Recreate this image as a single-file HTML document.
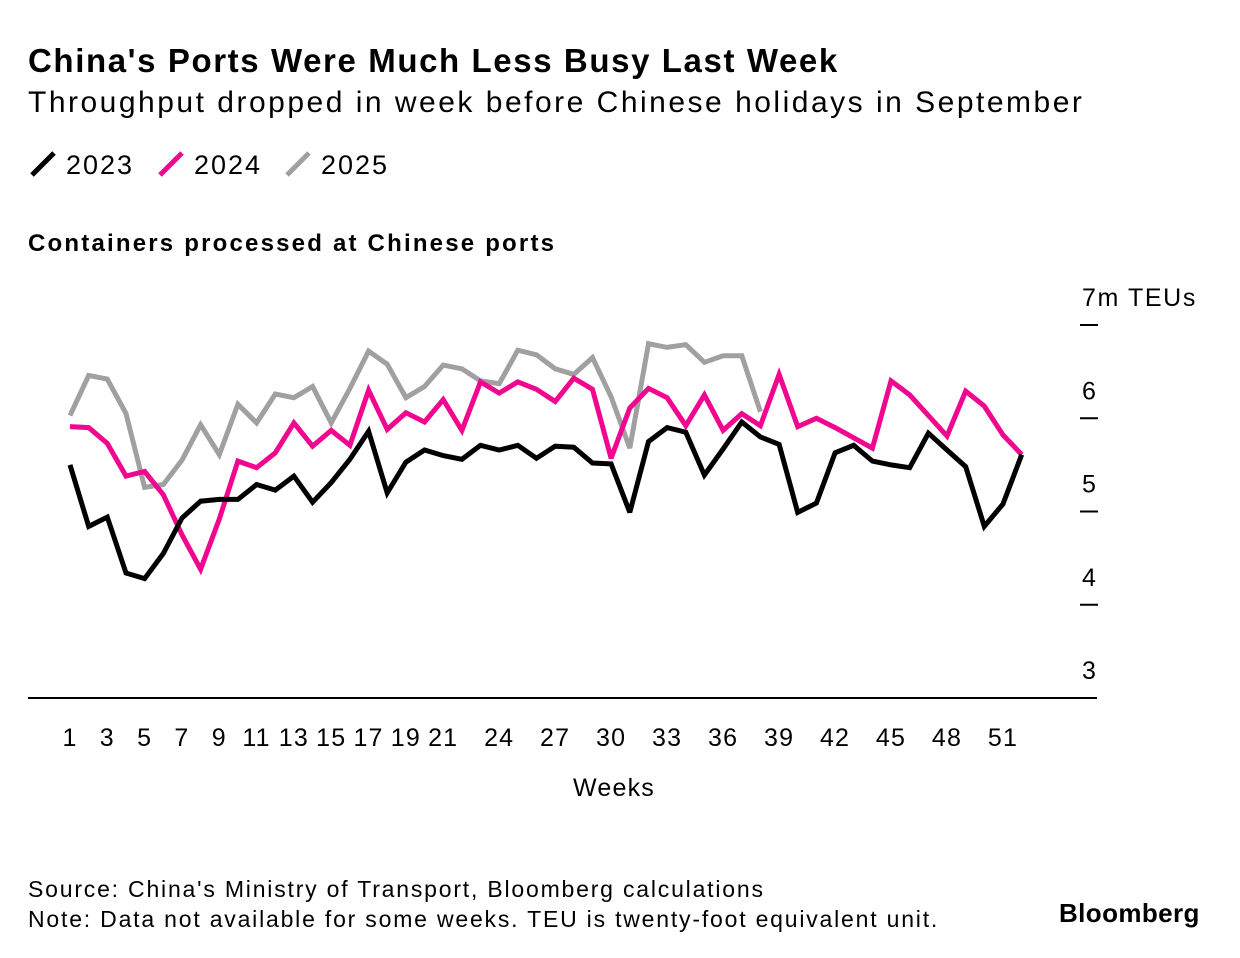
<!DOCTYPE html>
<html><head><meta charset="utf-8"><style>
body{margin:0;background:#fff;font-family:"Liberation Sans",sans-serif;}
#wrap{position:relative;width:1240px;height:958px;overflow:hidden;}
.t{position:absolute;white-space:nowrap;color:#000;}
</style></head><body>
<div id="wrap">
<div class="t" style="left:28px;top:42px;font-size:33px;font-weight:bold;letter-spacing:1.6px">China's Ports Were Much Less Busy Last Week</div>
<div class="t" style="left:28px;top:86px;font-size:30px;letter-spacing:2.5px">Throughput dropped in week before Chinese holidays in September</div>
<div class="t" style="left:28px;top:230px;font-size:24px;font-weight:bold;letter-spacing:2.2px">Containers processed at Chinese ports</div>
<div class="t" style="left:28px;top:874px;font-size:23px;line-height:30px;letter-spacing:1.8px">Source: China's Ministry of Transport, Bloomberg calculations<br>Note: Data not available for some weeks. TEU is twenty-foot equivalent unit.</div>
<div class="t" style="left:1059px;top:898px;font-size:26px;font-weight:bold;letter-spacing:0.4px">Bloomberg</div>
<svg id="svg" width="1240" height="958" style="position:absolute;left:0;top:0"></svg>
</div>
<script>
const weeks = Array.from({length:52},(_,i)=>i+1);
const s2023 = [5.50,4.84,4.94,4.34,4.28,4.55,4.93,5.11,5.13,5.13,5.29,5.23,5.38,5.10,5.31,5.56,5.86,5.20,5.53,5.66,5.60,5.56,5.71,5.66,5.71,5.57,5.70,5.69,5.52,5.51,4.99,5.75,5.90,5.85,5.39,5.67,5.96,5.80,5.72,4.99,5.09,5.63,5.71,5.54,5.50,5.47,5.84,5.66,5.48,4.84,5.08,5.61];
const s2024 = [5.91,5.90,5.73,5.38,5.43,5.18,4.75,4.38,4.92,5.54,5.47,5.63,5.95,5.70,5.87,5.71,6.30,5.88,6.06,5.96,6.20,5.87,6.39,6.27,6.39,6.31,6.18,6.43,6.31,5.57,6.11,6.32,6.22,5.92,6.25,5.87,6.05,5.92,6.47,5.91,6.00,5.90,5.79,5.68,6.40,6.25,6.03,5.81,6.29,6.13,5.82,5.61];
const s2025 = [6.03,6.46,6.42,6.05,5.26,5.29,5.55,5.93,5.61,6.15,5.95,6.26,6.22,6.34,5.95,6.32,6.72,6.58,6.22,6.34,6.57,6.53,6.40,6.37,6.73,6.68,6.53,6.47,6.65,6.23,5.68,6.80,6.76,6.79,6.60,6.67,6.67,6.07];
const yTicks = [3,4,5,6,7];
const xTicks = [1,3,5,7,9,11,13,15,17,19,21,24,27,30,33,36,39,42,45,48,51];
const seriesNames = ['2023','2024','2025'];
const seriesColors = ['#000000','#f0068f','#a0a0a0'];

const svg = document.getElementById('svg');
const NS = 'http://www.w3.org/2000/svg';
const x = w => 70 + (w-1)*(1003-70)/50;
const y = v => 698 - (v-3)*93.25;
function mk(tag, attrs){const e=document.createElementNS(NS,tag);for(const k in attrs)e.setAttribute(k,attrs[k]);svg.appendChild(e);return e;}

yTicks.forEach(t=>{
  if(t>3){
    const l=mk('line',{x1:1080,x2:1098,y1:y(t),y2:y(t),stroke:'#000','stroke-width':2});
    
    
  }
  const tx=mk('text',{x:1082,y:y(t)-19,'font-size':25,'letter-spacing':1.6,'font-family':'Liberation Sans, sans-serif'});
  tx.textContent = t===7 ? '7m TEUs' : String(t);
  
  
});
const base=mk('line',{x1:28,x2:1097,y1:698,y2:698,stroke:'#000','stroke-width':2});


xTicks.forEach(w=>{
  const tx=mk('text',{x:x(w),y:746,'font-size':25,'letter-spacing':1.2,'text-anchor':'middle','font-family':'Liberation Sans, sans-serif'});
  tx.textContent=String(w);
  
  
});
const xt=mk('text',{x:614,y:796,'font-size':25,'letter-spacing':1.2,'text-anchor':'middle','font-family':'Liberation Sans, sans-serif'});
xt.textContent='Weeks';



[s2025,s2024,s2023].forEach((s,idx)=>{
  const i=2-idx;
  const d=s.map((v,k)=>(k?'L':'M')+x(weeks[k]).toFixed(1)+','+y(v).toFixed(1)).join(' ');
  const p=mk('path',{d:d,fill:'none',stroke:seriesColors[i],'stroke-width':5,'stroke-linejoin':'miter','stroke-miterlimit':3});
  
  
});

const legX=[30,158,285];
seriesNames.forEach((n,i)=>{
  const l=mk('line',{x1:legX[i]+2,y1:175,x2:legX[i]+24,y2:153,stroke:seriesColors[i],'stroke-width':5});
  
  
  const t=mk('text',{x:legX[i]+36,y:174,'font-size':27,'letter-spacing':2,'font-family':'Liberation Sans, sans-serif'});
  t.textContent=n;
  
  
});
</script>
</body></html>
